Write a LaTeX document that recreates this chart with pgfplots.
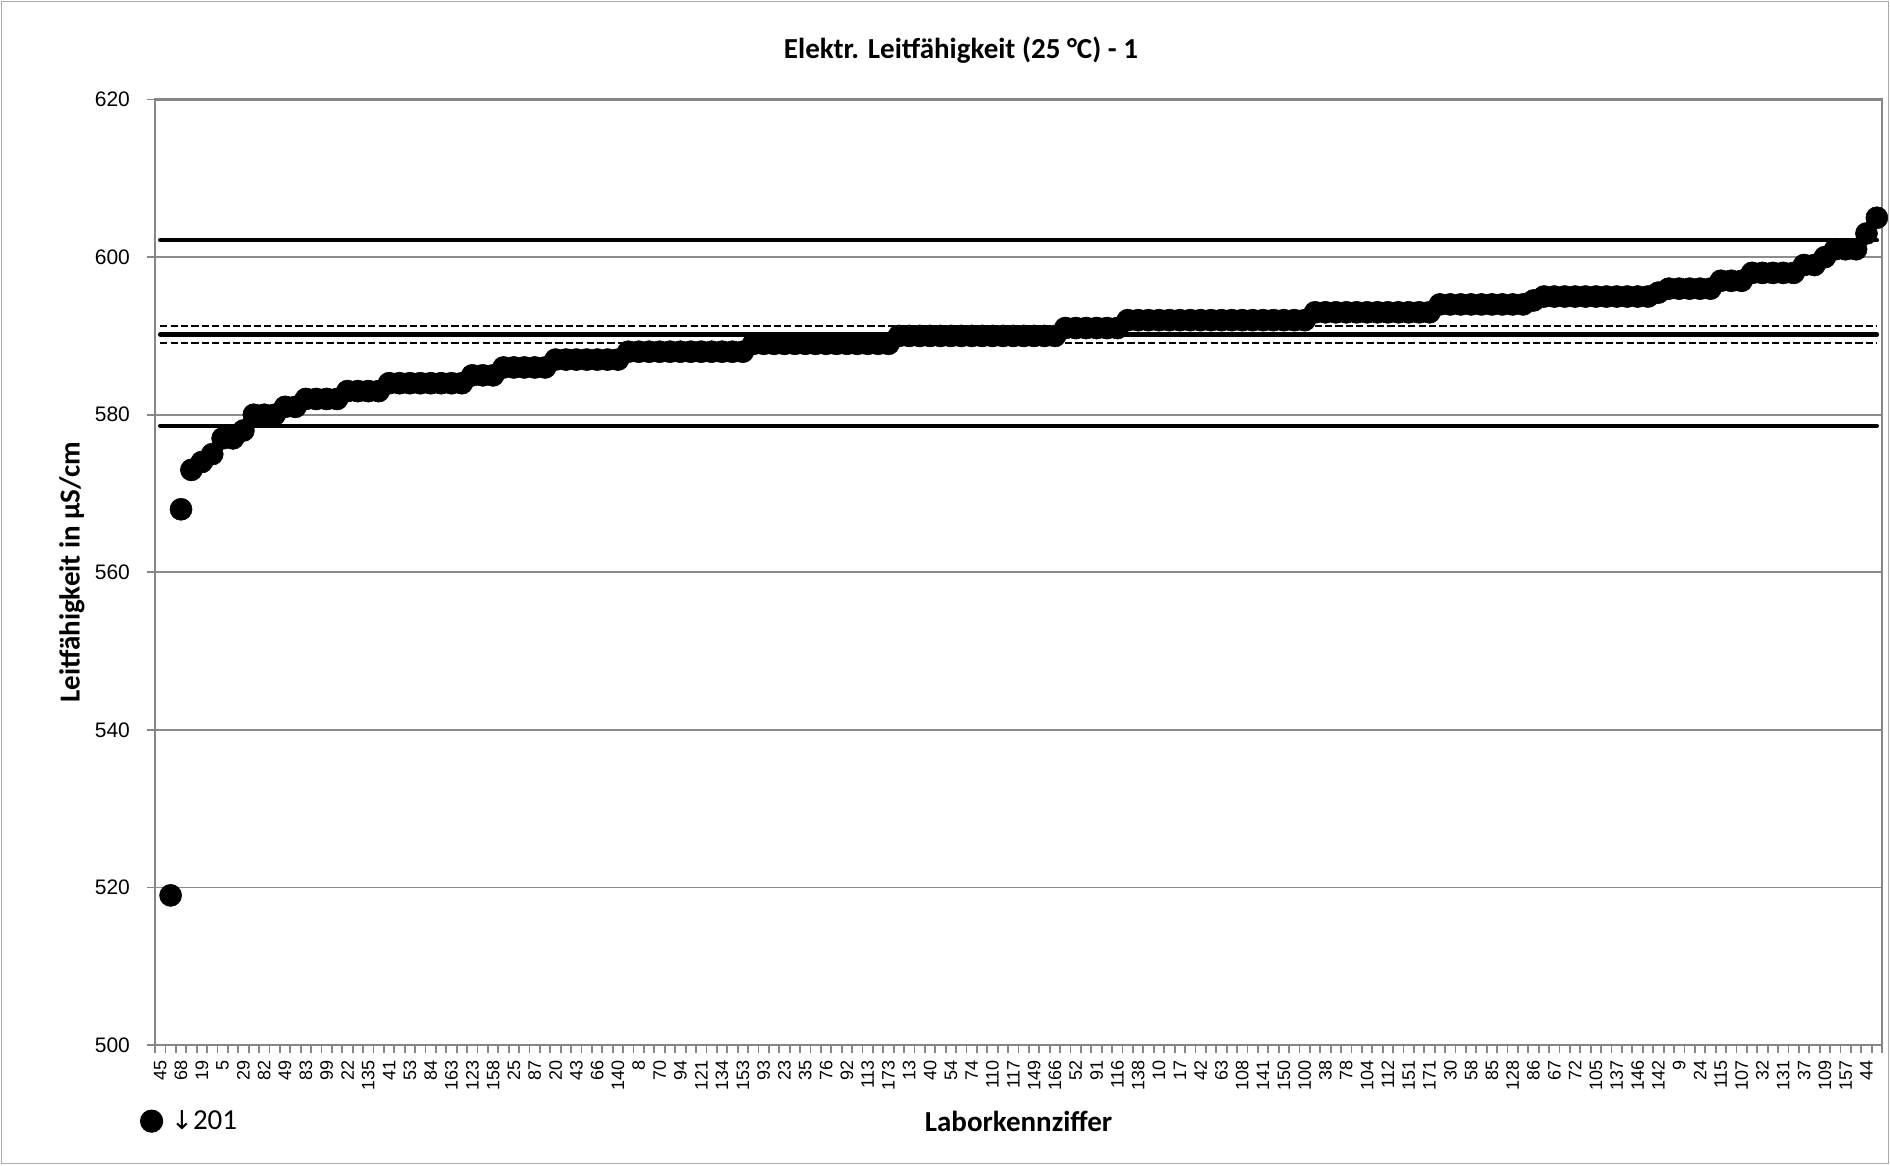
\documentclass[border=0pt]{standalone}
\usepackage{fontspec}
\setmainfont{Liberation Sans}
\newfontfamily\calibri{Carlito}
\newfontfamily\arrowf{DejaVu Sans}
\usepackage{pgfplots}
\pgfplotsset{compat=1.18}
\definecolor{axgray}{RGB}{134,134,134}
\definecolor{grdgray}{RGB}{140,140,140}
\definecolor{frmgray}{RGB}{170,170,170}
\begin{document}
\begin{tikzpicture}
\begin{axis}[
  scale only axis, width=863.5pt, height=472.75pt,
  xmin=0.5, xmax=166.5, ymin=500, ymax=620,
  ytick={500,520,...,620},
  xtick pos=bottom, ytick pos=left,
  ymajorgrids, grid style={color=grdgray, line width=0.9pt},
  axis line style={color=axgray, line width=1.3pt},
  tick style={color=axgray, line width=0.9pt},
  tick align=outside, major tick length=4pt, minor tick length=4pt,
  xtick={1,3,...,165},
  xticklabels={45,68,19,5,29,82,49,83,99,22,135,41,53,84,163,123,158,25,87,20,43,
    66,140,8,70,94,121,134,153,93,23,35,76,92,113,173,13,40,54,74,110,117,
    149,166,52,91,116,138,10,17,42,63,108,141,150,100,38,78,104,112,151,171,30,
    58,85,128,86,67,72,105,137,146,142,9,24,115,107,32,131,37,109,157,44},
  major x tick style={draw=none},
  minor xtick={0.5,1.5,...,166.5},
  xticklabel style={rotate=90, anchor=east, font=\fontsize{9}{10}\selectfont},
  yticklabel style={font=\fontsize{10.5}{12}\selectfont, xshift=-5pt},
  /pgf/number format/assume math mode=true,
  clip=false,
  legend style={at={(axis cs:-0.94,490.35)}, anchor=west, draw=none, fill=none,
    inner sep=0pt, outer sep=0pt, nodes={inner sep=0pt},
    /tikz/every odd column/.append style={column sep=4pt},
    font=\calibri\fontsize{14.5}{16}\selectfont},
]
% reference lines
\addplot[forget plot, black, line width=2.2pt, line cap=round] coordinates {(1,602.15) (166,602.15)};
\addplot[forget plot, black, line width=2.2pt, line cap=round] coordinates {(1,590.2) (166,590.2)};
\addplot[forget plot, black, line width=2.2pt, line cap=round] coordinates {(1,578.6) (166,578.6)};
\addplot[forget plot, black, line width=1.1pt, dash pattern=on 3.6pt off 1.6pt] coordinates {(1,591.3) (166,591.3)};
\addplot[forget plot, black, line width=1.1pt, dash pattern=on 3.6pt off 1.6pt] coordinates {(1,589.1) (166,589.1)};
% data
\addplot[forget plot, only marks, mark=*, mark size=5.5pt, mark options={fill=black, draw=black, line width=0.3pt}] coordinates {
(2,519) (3,568) (4,573) (5,574) (6,575) (7,577) (8,577) (9,578) (10,580) (11,580) (12,580) (13,581) (14,581)
(15,582) (16,582) (17,582) (18,582)
(19,583) (20,583) (21,583) (22,583)
(23,584) (24,584) (25,584) (26,584) (27,584) (28,584) (29,584) (30,584)
(31,585) (32,585) (33,585)
(34,586) (35,586) (36,586) (37,586) (38,586)
(39,587) (40,587) (41,587) (42,587) (43,587) (44,587) (45,587)
(46,588) (47,588) (48,588) (49,588) (50,588) (51,588) (52,588) (53,588) (54,588) (55,588) (56,588) (57,588)
(58,589) (59,589) (60,589) (61,589) (62,589) (63,589) (64,589) (65,589) (66,589) (67,589) (68,589) (69,589) (70,589) (71,589)
(72,590) (73,590) (74,590) (75,590) (76,590) (77,590) (78,590) (79,590) (80,590) (81,590) (82,590) (83,590) (84,590) (85,590) (86,590) (87,590)
(88,591) (89,591) (90,591) (91,591) (92,591) (93,591)
(94,592) (95,592) (96,592) (97,592) (98,592) (99,592) (100,592) (101,592) (102,592) (103,592) (104,592) (105,592) (106,592) (107,592) (108,592) (109,592) (110,592) (111,592)
(112,593) (113,593) (114,593) (115,593) (116,593) (117,593) (118,593) (119,593) (120,593) (121,593) (122,593) (123,593)
(124,594) (125,594) (126,594) (127,594) (128,594) (129,594) (130,594) (131,594) (132,594)
(133,594.5)
(134,595) (135,595) (136,595) (137,595) (138,595) (139,595) (140,595) (141,595) (142,595) (143,595) (144,595)
(145,595.5)
(146,596) (147,596) (148,596) (149,596) (150,596)
(151,597) (152,597) (153,597)
(154,598) (155,598) (156,598) (157,598) (158,598)
(159,599) (160,599)
(161,600)
(162,601) (163,601) (164,601)
(165,603)
(166,605)
};
\addlegendimage{legend image code/.code={\fill[black] (0pt,0pt) circle (5.6pt);}}
\addlegendentry{{\arrowf\fontsize{13}{16}\selectfont ↓}201}
% texts
\node[font=\calibri\bfseries\fontsize{14.5}{16}\selectfont] at (axis cs:77.97,626.2) {Elektr. Leitfähigkeit (25 °C) - 1};
\node[font=\calibri\bfseries\fontsize{14.5}{16}\selectfont] at (axis cs:83.5,490.35) {Laborkennziffer};
\node[font=\calibri\bfseries\fontsize{14.5}{16}\selectfont, rotate=90] at (axis cs:-7.48,560) {Leitfähigkeit in µS/cm};
\coordinate (BL) at (axis cs:-14.398,484.762);
\coordinate (TR) at (axis cs:167.263,632.635);
\coordinate (FBL) at (axis cs:-14.254,484.95);
\coordinate (FTR) at (axis cs:167.12,632.44);
\end{axis}
\draw[frmgray, line width=0.8pt] (FBL) rectangle (FTR);
\pgfresetboundingbox
\path[use as bounding box] (BL) rectangle (TR);
\end{tikzpicture}
\end{document}
